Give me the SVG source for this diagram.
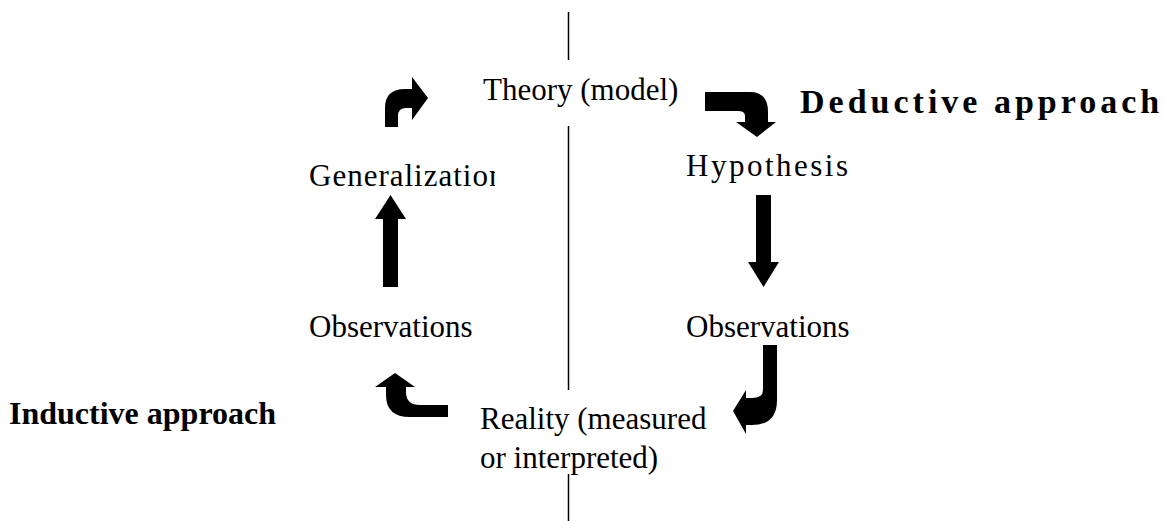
<svg xmlns="http://www.w3.org/2000/svg" width="1164" height="521" viewBox="0 0 1164 521">
<style>
.t{font-family:"Liberation Serif","Times New Roman",serif;font-size:31px;fill:#000}
.b{font-family:"Liberation Serif","Times New Roman",serif;font-size:32px;font-weight:bold;fill:#000}
.a{fill:#000;stroke:none}
.ln{stroke:#000;stroke-width:1.5;fill:none}
</style>
<defs>
<clipPath id="cg"><rect x="0" y="140" width="495" height="70"/></clipPath>
</defs>
<rect width="1164" height="521" fill="#fff"/>
<g id="divider">
<line class="ln" x1="568.5" y1="12" x2="568.5" y2="60"/>
<line class="ln" x1="568.5" y1="126" x2="568.5" y2="390"/>
<line class="ln" x1="568.5" y1="474" x2="568.5" y2="521"/>
</g>
<g id="theory"><text class="t" x="483" y="100">Theory (model)</text></g>
<g id="hypothesis"><text class="t" x="686" y="176" letter-spacing="2.5">Hypothesis</text></g>
<g id="obs-right"><text class="t" x="686" y="337">Observations</text></g>
<g id="reality"><text class="t" x="480" y="429">Reality (measured</text><text class="t" x="480" y="468">or interpreted)</text></g>
<g id="obs-left"><text class="t" x="309" y="337">Observations</text></g>
<g id="generalization"><text class="t" x="309" y="186" letter-spacing="1" clip-path="url(#cg)">Generalization</text></g>
<g id="deductive"><text class="b" x="800" y="113" style="font-size:34px" letter-spacing="4">Deductive approach</text></g>
<g id="inductive"><text class="b" x="9" y="424">Inductive approach</text></g>
<g id="connectors">
<path class="a" d="M705,92 L750,92 Q768,92 768,112 L768,122 L776,122 L757,137 L736,122 L745,122 L745,116 Q745,111 738,111 L705,111 Z"/>
<path class="a" d="M756,195 L771,195 L771,262 L779,262 L763.5,287 L748,262 L756,262 Z"/>
<path class="a" d="M763,345 L777,345 L777,400 Q777,425 752,425 L746,425 L746,434 L733,411 L746,390 L746,398 L752,398 Q763,398 763,390 Z"/>
<path class="a" d="M448,405 L420,405 Q406,405 406,392 L406,387 L415,387 L395,373 L375,387 L386,387 L386,395 Q386,417 410,417 L448,417 Z"/>
<path class="a" d="M383,287 L383,219 L375,219 L390.5,195 L406,219 L398,219 L398,287 Z"/>
<path class="a" d="M385,127 L385,108 Q385,89 405,89 L412,89 L412,77 L428,98 L412,120 L412,108 L406,108 Q398,108 398,116 L398,127 Z"/>
</g>
</svg>
